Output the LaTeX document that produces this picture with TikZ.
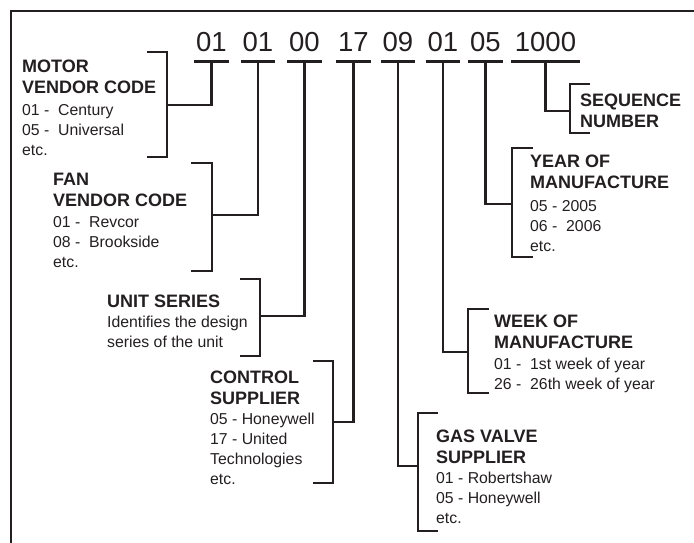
\documentclass[tikz,border=0pt]{standalone}
\usepackage{fontspec}
\setmainfont{Liberation Sans}
\usetikzlibrary{positioning}
\definecolor{ink}{RGB}{35,31,32}

\begin{document}
\begin{tikzpicture}[x=1pt, y=-1pt,%
  code/.style={font=\fontsize{27.5}{30}\selectfont, text=ink, anchor=base, inner xsep=0pt, inner ysep=9pt, minimum width=34pt},%
  head/.style={font=\fontsize{18}{21.5}\selectfont\bfseries, text=ink, align=left, inner sep=0pt, anchor=north west},%
  item/.style={font=\fontsize{15.8}{20}\selectfont, text=ink, align=left, inner sep=0pt},%
  tie/.style={draw=ink, line width=2.8pt}%
]
  \useasboundingbox (0,0) rectangle (694,543);
  % frame
  \draw[tie] (11,560) -- (11,11) -- (710,11);

  % code groups
  \node[code] (d1) at (211.5,52) {01};
  \node[code] (d2) at (258,52) {01};
  \node[code] (d3) at (304.5,52) {00};
  \node[code] (d4) at (353.5,52) {17};
  \node[code] (d5) at (398,52) {09};
  \node[code] (d6) at (443,52) {01};
  \node[code] (d7) at (485.5,52) {05};
  \node[code, minimum width=69pt] (d8) at (545.5,52) {1000};
  \draw[tie] (d1.south west) -- (d1.south east) (d2.south west) -- (d2.south east)
             (d3.south west) -- (d3.south east) (d4.south west) -- (d4.south east)
             (d5.south west) -- (d5.south east) (d6.south west) -- (d6.south east)
             (d7.south west) -- (d7.south east) (d8.south west) -- (d8.south east);

  % descriptions
  \node[head] (h1) at (22,59.5) {MOTOR\\VENDOR CODE};
  \node[item, below right=10pt and 0pt of h1.south west] (t1) {01 -~ Century\\05 -~ Universal\\etc.};
  \node[head] (h2) at (53,172.5) {FAN\\VENDOR CODE};
  \node[item, below right=9pt and 0pt of h2.south west] (t2) {01 -~ Revcor\\08 -~ Brookside\\etc.};
  \node[head] (h3) at (107,294.5) {UNIT SERIES};
  \node[item, below right=8pt and 0pt of h3.south west] (t3) {Identifies the design\\series of the unit};
  \node[head] (h4) at (210,370.5) {CONTROL\\SUPPLIER};
  \node[item, below right=8pt and 0pt of h4.south west] (t4) {05 - Honeywell\\17 - United\\Technologies\\etc.};
  \node[head] (h5) at (436,429.5) {GAS VALVE\\SUPPLIER};
  \node[item, below right=8pt and 0pt of h5.south west] (t5) {01 - Robertshaw\\05 - Honeywell\\etc.};
  \node[head] (h6) at (494,314.5) {WEEK OF\\MANUFACTURE};
  \node[item, below right=9pt and 0pt of h6.south west] (t6) {01 -~ 1st week of year\\26 -~ 26th week of year};
  \node[head] (h7) at (530,154.5) {YEAR OF\\MANUFACTURE};
  \node[item, below right=11pt and 0pt of h7.south west] (t7) {05 - 2005\\06 -~ 2006\\etc.};
  \node[head] (h8) at (580,93.5) {SEQUENCE\\NUMBER};

  % brackets
  \draw[tie] (147,52) -| (167,157) -- (147,157);
  \draw[tie] (191,163) -| (212,271) -- (191,271);
  \draw[tie] (240,279) -| (260,356) -- (240,356);
  \draw[tie] (313,361) -| (333,483) -- (313,483);
  \draw[tie] (438,413) -| (418,531) -- (438,531);
  \draw[tie] (489,309) -| (468,393) -- (489,393);
  \draw[tie] (533,148) -| (512,257) -- (533,257);
  \draw[tie] (590,84) -| (570,133) -- (590,133);
  \coordinate (b1) at (167,105);
  \coordinate (b2) at (212,215);
  \coordinate (b3) at (260,316);
  \coordinate (b4) at (333,422);
  \coordinate (b5) at (418,466);
  \coordinate (b6) at (468,352);
  \coordinate (b7) at (512,204);
  \coordinate (b8) at (570,111);

  % stems
  \draw[tie] (d1.south) |- (b1);
  \draw[tie] (d2.south) |- (b2);
  \draw[tie] (d3.south) |- (b3);
  \draw[tie] (d4.south) |- (b4);
  \draw[tie] (d5.south) |- (b5);
  \draw[tie] (d6.south) |- (b6);
  \draw[tie] (d7.south) |- (b7);
  \draw[tie] (d8.south) |- (b8);
\end{tikzpicture}
\end{document}
